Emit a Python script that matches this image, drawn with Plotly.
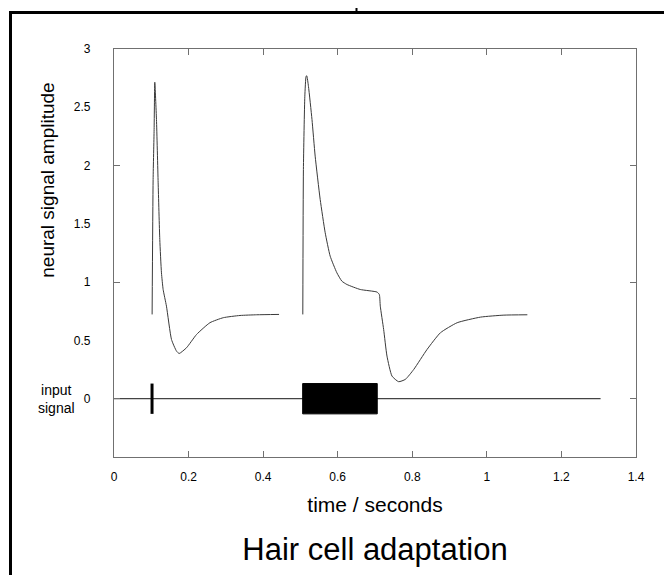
import plotly.graph_objects as go

# ---------------- data ----------------
# response to the click (first stimulus)
t_click_resp = [0.1022, 0.1049, 0.1076, 0.1094, 0.1139, 0.1184, 0.1228, 0.1273, 0.1318,
                0.1407, 0.1542, 0.1677, 0.1748, 0.1945, 0.2214, 0.2573, 0.2931, 0.3379,
                0.3828, 0.4427]
v_click_resp = [0.723, 1.88, 2.31, 2.715, 2.395, 1.852, 1.366, 1.08, 0.937,
                0.794, 0.508, 0.408, 0.388, 0.437, 0.551, 0.652, 0.695, 0.714,
                0.720, 0.723]

# response to the tone burst (second stimulus)
t_tone_resp = [0.5064, 0.508, 0.5118, 0.5153, 0.517, 0.5215, 0.531, 0.5395, 0.553,
               0.5664, 0.5798, 0.5978, 0.611, 0.6246, 0.6605, 0.7053, 0.7116, 0.7142,
               0.7232, 0.7321, 0.7456, 0.7634, 0.7815, 0.8039, 0.8397, 0.8755, 0.9204,
               0.9831, 1.0457, 1.1086]
v_tone_resp = [0.723, 1.967, 2.595, 2.767, 2.77, 2.68, 2.395, 2.081, 1.709,
               1.424, 1.223, 1.080, 1.009, 0.980, 0.937, 0.915, 0.894, 0.794,
               0.594, 0.366, 0.194, 0.146, 0.166, 0.251, 0.423, 0.566, 0.652,
               0.700, 0.717, 0.720]

# input signal
input_line_t = [0.0, 1.305]
input_line_v = [0.0, 0.0]
click_time = 0.102
click_half_height = 0.13
tone_start = 0.506
tone_end = 0.706
tone_half_height = 0.13

x_tick_vals = [0, 0.2, 0.4, 0.6, 0.8, 1.0, 1.2, 1.4]
x_tick_text = ["0", "0.2", "0.4", "0.6", "0.8", "1", "1.2", "1.4"]
y_tick_vals = [0, 0.5, 1, 1.5, 2, 2.5, 3]
y_tick_text = ["0", "0.5", "1", "1.5", "2", "2.5", "3"]
y_mark_vals = [0, 1, 2]

FONT = "Arial, Liberation Sans, sans-serif"
AX = "#707070"
W, H = 656, 567
L, T, R, B = 106, 41, 28, 118
PW, PH = W - L - R, H - T - B


def px(xp):   # page x (reference picture) -> paper x
    return (xp - 8 - L) / PW


def py(yp):   # page y (reference picture) -> paper y
    return (H - B - (yp - 8)) / PH


fig = go.Figure()

# baseline of the input signal
fig.add_trace(go.Scatter(x=input_line_t, y=input_line_v, mode="lines",
                         line=dict(color="#444444", width=1.2), hoverinfo="skip"))
# click
fig.add_trace(go.Scatter(x=[click_time, click_time],
                         y=[-click_half_height, click_half_height], mode="lines",
                         line=dict(color="black", width=3), hoverinfo="skip"))
# tone burst
fig.add_trace(go.Scatter(x=[tone_start, tone_end, tone_end, tone_start, tone_start],
                         y=[-tone_half_height, -tone_half_height, tone_half_height,
                            tone_half_height, -tone_half_height],
                         mode="lines", fill="toself", fillcolor="black",
                         line=dict(color="black", width=1), hoverinfo="skip"))
# neural responses
fig.add_trace(go.Scatter(x=t_click_resp, y=v_click_resp, mode="lines",
                         line=dict(color="#3a3a3a", width=1, shape="spline", smoothing=0.5)))
fig.add_trace(go.Scatter(x=t_tone_resp, y=v_tone_resp, mode="lines",
                         line=dict(color="#3a3a3a", width=1, shape="spline", smoothing=0.5)))
# invisible trace for the secondary y axis (tick marks only)
fig.add_trace(go.Scatter(x=[0], y=[0], yaxis="y2", mode="markers",
                         marker=dict(opacity=0), hoverinfo="skip"))

fig.update_layout(
    width=W, height=H,
    margin=dict(l=L, r=R, t=T, b=B),
    paper_bgcolor="white", plot_bgcolor="white",
    showlegend=False,
    font=dict(family=FONT, color="black"),
    title=dict(text="Hair cell adaptation", x=0.5, xref="paper", xanchor="center",
               y=1 - (549 - 8) / H, yref="container", yanchor="middle",
               font=dict(size=31, family=FONT, color="black")),
    xaxis=dict(range=[0, 1.4], tickvals=x_tick_vals, ticktext=x_tick_text,
               ticks="inside", ticklen=6, tickcolor=AX, tickwidth=1.2,
               showline=True, linecolor=AX, linewidth=1.2, mirror="ticks",
               showgrid=False, zeroline=False,
               tickfont=dict(size=12, family=FONT, color="black"),
               ticklabelstandoff=8,
               title=dict(text="time / seconds", standoff=14,
                          font=dict(size=21, family=FONT, color="black"))),
    yaxis=dict(range=[-0.5, 3], tickvals=y_tick_vals, ticktext=y_tick_text,
               ticks="", showline=True, linecolor=AX, linewidth=1.2, mirror=True,
               showgrid=False, zeroline=False,
               tickfont=dict(size=12, family=FONT, color="black"),
               ticklabelstandoff=20),
    yaxis2=dict(range=[-0.5, 3], overlaying="y", side="left", tickvals=y_mark_vals,
                ticks="inside", ticklen=6, tickcolor=AX, tickwidth=1.2,
                showline=False, mirror="ticks", showticklabels=False,
                showgrid=False, zeroline=False),
)

# y axis title (placed off-centre as in the original)
fig.add_annotation(text="neural signal amplitude", textangle=-90,
                   xref="paper", x=px(48), yref="y", y=1.87,
                   xanchor="center", yanchor="middle", showarrow=False,
                   font=dict(size=19, family=FONT, color="black"))
# input signal label
fig.add_annotation(text="input<br>signal", xref="paper", x=px(56),
                   yref="y", y=0, xanchor="center", yanchor="middle", showarrow=False,
                   font=dict(size=14, family=FONT, color="black"))

# surrounding frame of the original slide
fig.add_shape(type="line", xref="paper", yref="paper",
              x0=px(10.5), x1=px(10.5), y0=py(12.5), y1=py(600),
              line=dict(color="black", width=3))
fig.add_shape(type="line", xref="paper", yref="paper",
              x0=px(9), x1=px(690), y0=py(12.5), y1=py(12.5),
              line=dict(color="black", width=3))
fig.add_shape(type="line", xref="paper", yref="paper",
              x0=px(356.5), x1=px(356.5), y0=py(-5), y1=py(12.5),
              line=dict(color="black", width=2))

fig.write_html("out.html")
